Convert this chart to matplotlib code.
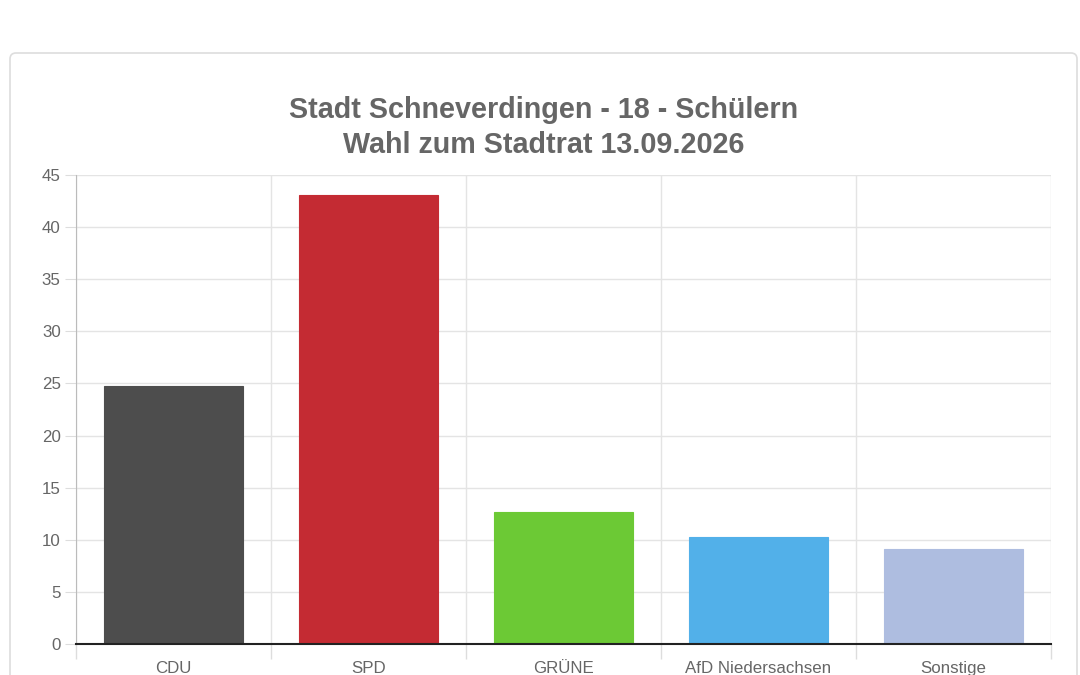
import matplotlib
matplotlib.use('Agg')
import matplotlib.pyplot as plt
from matplotlib.patches import FancyBboxPatch
import numpy as np

# election result, percent of votes
parties = ['CDU', 'SPD', 'GRÜNE', 'AfD Niedersachsen', 'Sonstige']
votes = [24.8, 43.1, 12.7, 10.3, 9.1]
colors = ['#4d4d4d', '#c42b33', '#6cc935', '#52b0e9', '#aebde0']
title_lines = ['Stadt Schneverdingen - 18 - Schülern', 'Wahl zum Stadtrat 13.09.2026']
y_ticks = [0, 5, 10, 15, 20, 25, 30, 35, 40, 45]

W, H = 1080, 675
plt.rcParams['font.family'] = ['Liberation Sans', 'DejaVu Sans']

fig = plt.figure(figsize=(W / 100, H / 100), dpi=100)
fig.patch.set_facecolor('white')

# card behind the chart (pixel coords)
card = FancyBboxPatch((10, -30), 1067, H - 53 + 30,
                      boxstyle='round,pad=0,rounding_size=6',
                      transform=None, facecolor='white', edgecolor='#dddddd',
                      linewidth=1.2, zorder=-10)
fig.patches.append(card)

left, right, top, bottom = 76, 1051, 175, 644
ax = fig.add_axes([left / W, 1 - bottom / H, (right - left) / W, (bottom - top) / H])
ax.set_facecolor('none')
ax.set_zorder(5)

x = np.arange(len(parties))
ax.bar(x, votes, width=0.715, color=colors, edgecolor=colors, linewidth=0.8, zorder=2)

ax.set_xlim(-0.5, len(parties) - 0.5)
ax.set_ylim(0, 45)
ax.set_yticks(y_ticks)
ax.set_xticks(x)
ax.set_xticklabels(parties)
ax.set_xticks(np.arange(-0.5, len(parties)), minor=True)

ax.tick_params(axis='y', length=8, color='#dddddd', labelsize=12.2, labelcolor='#666666', pad=3)
ax.tick_params(axis='x', which='major', length=0, labelsize=12.2, labelcolor='#666666', pad=12)
ax.tick_params(axis='x', which='minor', length=11, color='#dddddd', width=1)

ax.grid(axis='y', color='#e4e4e4', linewidth=1, zorder=0)
ax.grid(axis='x', which='minor', color='#e4e4e4', linewidth=1, zorder=0)

for s in ['top', 'right']:
    ax.spines[s].set_visible(False)
ax.spines['left'].set_color('#bbbbbb')
ax.spines['bottom'].set_color('#222222')
ax.spines['bottom'].set_linewidth(1.5)
ax.spines['bottom'].set_zorder(3)

fig.text(544 / W, 1 - 110 / H, title_lines[0], ha='center', va='center',
         fontsize=20.7, fontweight='bold', color='#666666')
fig.text(544 / W, 1 - 145 / H, title_lines[1], ha='center', va='center',
         fontsize=20.7, fontweight='bold', color='#666666')

fig.savefig('out.png', dpi=100, facecolor='white')
